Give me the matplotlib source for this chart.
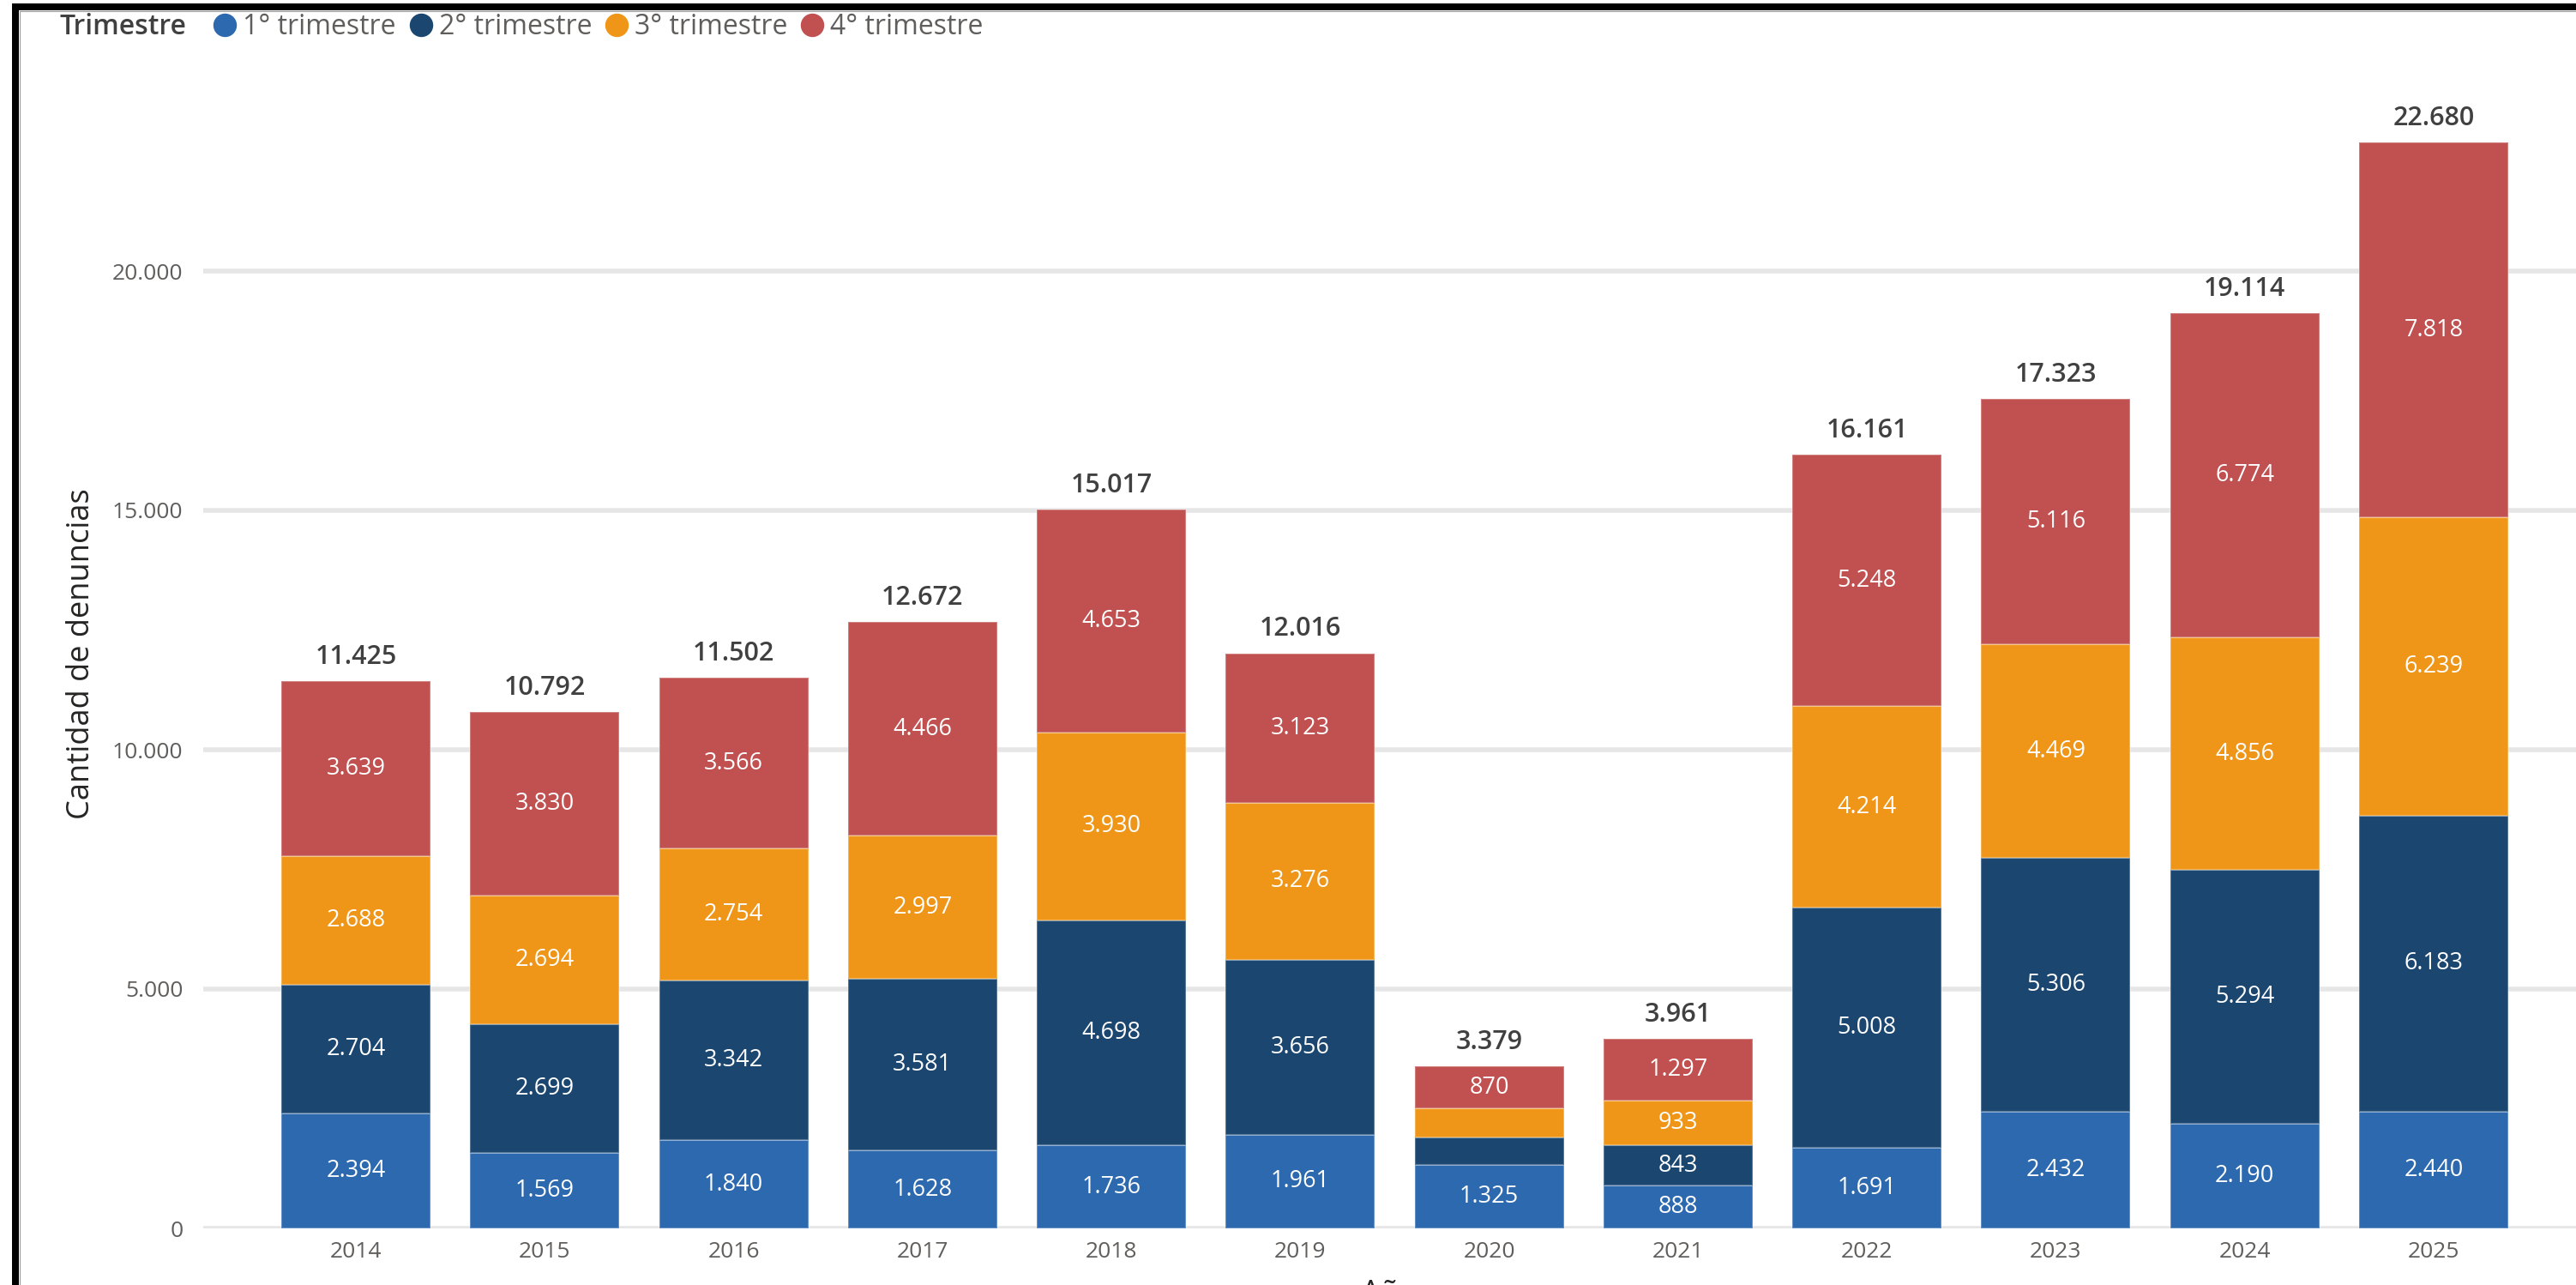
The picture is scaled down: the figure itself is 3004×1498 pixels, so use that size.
import matplotlib
matplotlib.use("Agg")
import matplotlib.pyplot as plt
from matplotlib.lines import Line2D
from matplotlib.ticker import FuncFormatter, FixedLocator

# ---------------- data ----------------
years = ["2014", "2015", "2016", "2017", "2018", "2019",
         "2020", "2021", "2022", "2023", "2024", "2025"]
q1 = [2394, 1569, 1840, 1628, 1736, 1961, 1325, 888, 1691, 2432, 2190, 2440]
q2 = [2704, 2699, 3342, 3581, 4698, 3656, 575, 843, 5008, 5306, 5294, 6183]
q3 = [2688, 2694, 2754, 2997, 3930, 3276, 609, 933, 4214, 4469, 4856, 6239]
q4 = [3639, 3830, 3566, 4466, 4653, 3123, 870, 1297, 5248, 5116, 6774, 7818]
totals = [11425, 10792, 11502, 12672, 15017, 12016, 3379, 3961, 16161, 17323, 19114, 22680]
series_names = ["1° trimestre", "2° trimestre", "3° trimestre", "4° trimestre"]
series_values = [q1, q2, q3, q4]
y_ticks = [0, 5000, 10000, 15000, 20000]

colors = ["#2D69AF", "#1A4670", "#EF9619", "#C15050"]

FONT = ["Open Sans", "DejaVu Sans"]
plt.rcParams["font.family"] = FONT

W, H = 3004, 1498
PX = 100 / 72.0  # px per pt at dpi 100


def fmt(v):
    return f"{int(v):,}".replace(",", ".")


fig = plt.figure(figsize=(W / 100, H / 100), dpi=100)
fig.patch.set_facecolor("white")

ax_left, ax_right = 237, 3004
ax_top, ax_bottom = 60, 1432
ax = fig.add_axes([ax_left / W, (H - ax_bottom) / H,
                   (ax_right - ax_left) / W, (ax_bottom - ax_top) / H])

x = list(range(len(years)))
bottoms = [0] * len(years)
for name, vals, col in zip(series_names, series_values, colors):
    bars = ax.bar(x, vals, width=0.79, bottom=bottoms, color=col,
                  edgecolor=(1, 1, 1, 0.28), linewidth=1.5, label=name, zorder=3)
    for xi, b, v in zip(x, bottoms, vals):
        if v >= 700:
            ax.text(xi, b + v / 2, fmt(v), ha="center", va="center",
                    color="white", fontsize=19.5, zorder=5)
    bottoms = [b + v for b, v in zip(bottoms, vals)]

for xi, t in zip(x, totals):
    ax.annotate(fmt(t), (xi, t), xytext=(0, 14.5), textcoords="offset points",
                ha="center", va="baseline", fontsize=22, fontweight="semibold",
                color="#404040", zorder=5)

ax.set_xlim(-0.808, 11.754)
px_per_unit = 1116 / 20000
ax.set_ylim(0, (ax_bottom - ax_top) / px_per_unit)

ax.yaxis.set_major_locator(FixedLocator(y_ticks))
ax.yaxis.set_major_formatter(FuncFormatter(lambda v, p: fmt(v)))
ax.set_xticks(x)
ax.set_xticklabels(years)

for s in ax.spines.values():
    s.set_visible(False)
ax.tick_params(axis="both", length=0, labelsize=19, labelcolor="#605E5C")
ax.tick_params(axis="y", pad=17)
ax.tick_params(axis="x", pad=11)

ax.grid(axis="y", color="#E6E6E6", linewidth=4.0)
ax.grid(axis="x", visible=False)
ax.set_axisbelow(True)

ax.set_ylabel("Cantidad de denuncias", fontsize=26, color="#252423", va="center")
ax.yaxis.set_label_coords((95 - ax_left) / (ax_right - ax_left),
                          (ax_bottom - 762) / (ax_bottom - ax_top))

# x label (mostly cut off at the bottom edge, as in the reference)
fig.text(((ax_left + ax_right) / 2) / W, (H - 1518) / H, "Año", ha="center",
         va="baseline", fontsize=26, color="#252423")

# legend
fig.text(70 / W, 1 - 32 / H, "Trimestre", ha="left", va="center",
         fontsize=23, fontweight="semibold", color="#404040")
handles = [Line2D([], [], linestyle="none", marker="o", markersize=26 / PX,
                  markerfacecolor=c, markeredgecolor=c) for c in colors]
fs = 23
fig.legend(handles, series_names, loc="center left",
           bbox_to_anchor=(249 / W, 1 - 32 / H), ncol=4, frameon=False,
           fontsize=fs, labelcolor="#605E5C", borderpad=0, borderaxespad=0,
           handlelength=26 / (fs * PX), handletextpad=8 / (fs * PX),
           columnspacing=16 / (fs * PX), handleheight=0.7)

# frame of the screenshot (top and left)
fig.add_artist(Line2D([14 / W, 1], [1 - 8 / H, 1 - 8 / H], color="black",
                      linewidth=8 / PX, solid_capstyle="butt",
                      transform=fig.transFigure))
fig.add_artist(Line2D([18 / W, 18 / W], [1 - 4 / H, 0], color="black",
                      linewidth=8 / PX, solid_capstyle="butt",
                      transform=fig.transFigure))
fig.add_artist(Line2D([22.5 / W, 1], [1 - 12.5 / H, 1 - 12.5 / H], color="#9A9A9A",
                      linewidth=0.8, transform=fig.transFigure))
fig.add_artist(Line2D([22.5 / W, 22.5 / W], [1 - 12.5 / H, 0], color="#9A9A9A",
                      linewidth=0.8, transform=fig.transFigure))

fig.savefig("out.png", dpi=100)
